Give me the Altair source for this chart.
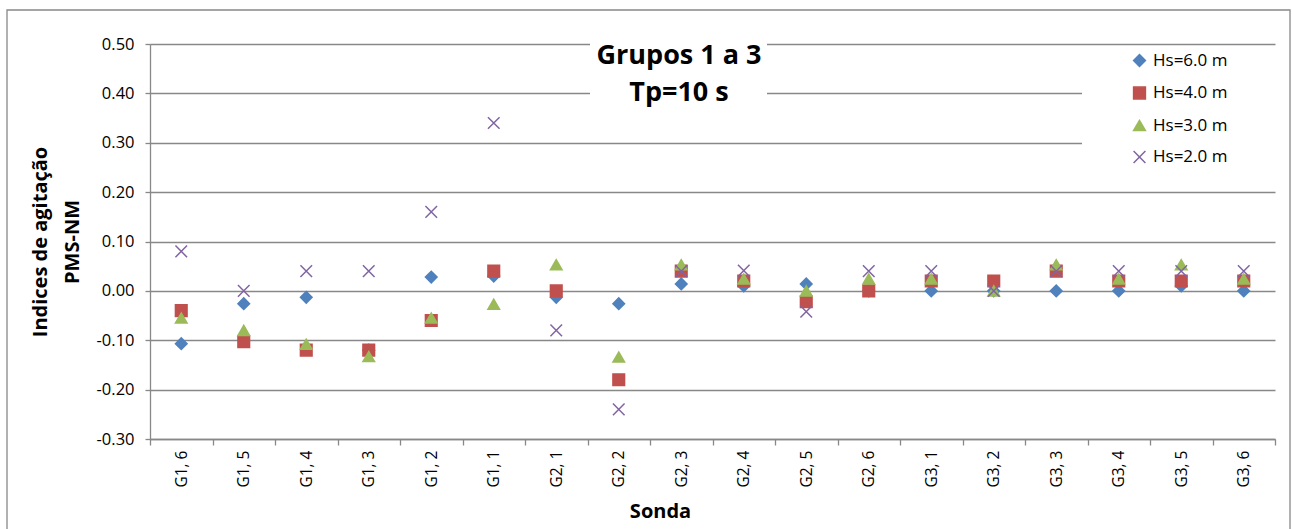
import altair as alt
import pandas as pd

categories = ["G1, 6", "G1, 5", "G1, 4", "G1, 3", "G1, 2", "G1, 1",
              "G2, 1", "G2, 2", "G2, 3", "G2, 4", "G2, 5", "G2, 6",
              "G3, 1", "G3, 2", "G3, 3", "G3, 4", "G3, 5", "G3, 6"]
series = ["Hs=6.0 m", "Hs=4.0 m", "Hs=3.0 m", "Hs=2.0 m"]
hs6 = [-0.107, -0.026, -0.013, -0.12, 0.028, 0.03, -0.013, -0.026, 0.014,
       0.01, 0.014, 0.0, 0.0, 0.0, 0.0, 0.0, 0.01, 0.0]
hs4 = [-0.04, -0.103, -0.12, -0.12, -0.06, 0.04, 0.0, -0.18, 0.04,
       0.02, -0.022, 0.0, 0.02, 0.02, 0.04, 0.02, 0.02, 0.02]
hs3 = [-0.055, -0.08, -0.108, -0.133, -0.055, -0.027, 0.053, -0.134, 0.053,
       0.024, 0.0, 0.024, 0.024, 0.0, 0.053, 0.024, 0.053, 0.024]
hs2 = [0.08, 0.0, 0.04, 0.04, 0.16, 0.34, -0.08, -0.24, 0.04,
       0.041, -0.042, 0.04, 0.04, 0.0, 0.04, 0.04, 0.04, 0.04]
y_ticks = [-0.3, -0.2, -0.1, 0.0, 0.1, 0.2, 0.3, 0.4, 0.5]
title_lines = ["Grupos 1 a 3", "Tp=10 s"]
y_title = ["Indices de agitação", "PMS-NM"]
x_title = "Sonda"

colors = ["#4F81BD", "#C0504D", "#9BBB59", "#8064A2"]
shapes = ["diamond", "square", "triangle-up", "M-1,-1L1,1M1,-1L-1,1"]

rows = []
for name, vals in zip(series, [hs6, hs4, hs3, hs2]):
    for c, v in zip(categories, vals):
        rows.append({"Sonda": c, "valor": v, "serie": name})
df = pd.DataFrame(rows)

GRID = "#888888"
FONT = "Open Sans"
one = alt.Data(values=[{}])

border = alt.Chart(one).mark_rect(fill="white", fillOpacity=0, stroke=GRID, strokeWidth=1.3).encode(
    x=alt.value(-143), x2=alt.value(1140), y=alt.value(-34), y2=alt.value(495))

title_bg = alt.Chart(one).mark_rect(fill="white").encode(
    x=alt.value(440), x2=alt.value(617), y=alt.value(-6), y2=alt.value(74))

legend_bg = alt.Chart(one).mark_rect(fill="white").encode(
    x=alt.value(932), x2=alt.value(1127), y=alt.value(3), y2=alt.value(128))

title_text = alt.Chart(one).mark_text(
    text=title_lines, font=FONT, fontSize=27, fontWeight="bold", color="#000000",
    align="center", baseline="alphabetic", lineHeight=37).encode(
    x=alt.value(529), y=alt.value(20))

scale_series = dict(domain=series)
legend = alt.Legend(title=None, orient="none", legendX=981, legendY=8, padding=0,
                    labelFont=FONT, labelFontSize=17, labelColor="#000000",
                    labelOffset=5, rowPadding=13.5, symbolSize=140,
                    symbolStrokeWidth=1.5, zindex=1)

points = alt.Chart(df).mark_point(filled=True, strokeWidth=1.5, opacity=1, size=135).encode(
    x=alt.X("Sonda:N", sort=categories,
            scale=alt.Scale(paddingInner=0, paddingOuter=0),
            axis=alt.Axis(title=x_title, labelAngle=270, labelAlign="right",
                          labelBaseline="middle", labelPadding=5, tickSize=6,
                          tickBand="extent", labelFont=FONT, labelFontSize=15.5,
                          labelColor="#000000", domainColor=GRID, domainWidth=1.3,
                          tickColor=GRID, tickWidth=1.3, grid=False,
                          titleFont=FONT, titleFontSize=20, titleFontWeight="bold",
                          titleColor="#000000", titleX=510, titleY=78,
                          titleAlign="center", titleBaseline="alphabetic")),
    y=alt.Y("valor:Q",
            scale=alt.Scale(domain=[-0.3, 0.5], nice=False, zero=False),
            axis=alt.Axis(title=y_title, values=y_ticks, format=".2f",
                          labelExpr="replace(format(datum.value, '.2f'), '\u2212', '-')",
                          labelFont=FONT, labelFontSize=16.5, labelColor="#000000",
                          labelPadding=11, tickSize=5, tickColor=GRID, tickWidth=1.3,
                          domainColor=GRID, domainWidth=1.3,
                          grid=True, gridColor=GRID, gridWidth=1.3,
                          titleFont=FONT, titleFontSize=20, titleFontWeight="bold",
                          titleColor="#000000", titleAngle=270, titleX=-104,
                          titleY=197.5, titleAlign="center",
                          titleBaseline="alphabetic", titleLineHeight=32)),
    shape=alt.Shape("serie:N", scale=alt.Scale(range=shapes, **scale_series), legend=legend),
    fill=alt.Fill("serie:N", scale=alt.Scale(range=colors, **scale_series), legend=legend),
    stroke=alt.Stroke("serie:N", scale=alt.Scale(range=colors, **scale_series), legend=legend),
)

chart = alt.layer(border, title_bg, legend_bg, title_text, points).properties(
    width=1125, height=395,
    padding={"left": 150, "top": 44, "right": 17, "bottom": 90},
    autosize=alt.AutoSizeParams(type="none"),
    background="white",
).configure_view(stroke=None)

chart.save("out.html", embed_options={"renderer": "svg", "actions": False})
